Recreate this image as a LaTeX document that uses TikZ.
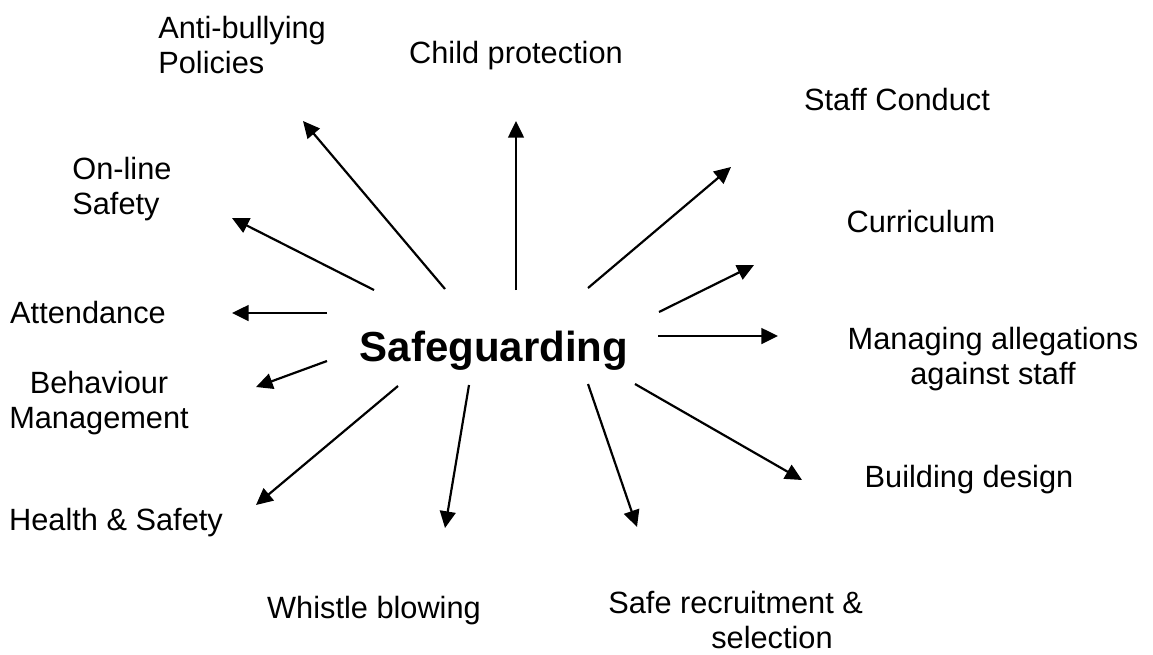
\documentclass[tikz,border=0pt]{standalone}
\usepackage{fontspec}
\setmainfont{Liberation Sans}
\usetikzlibrary{arrows.meta}
\tikzset{
  lbl/.style={inner sep=0pt, font=\fontsize{17.5}{19.5}\selectfont},
  spoke/.style={line width=1.25pt, -{Triangle[length=9.5pt,width=9pt]}}
}
\begin{document}
\begin{tikzpicture}[x=0.02cm,y=-0.02cm]
\useasboundingbox (0,0) rectangle (1153,654);
% centre word
\node[lbl, font=\bfseries\fontsize{23.9}{28}\selectfont, anchor=base] (safe) at (494,361) {Safeguarding};
% labels round it (multi-line ones sit on their last line)
\node[lbl, anchor=base west, align=left] (bully) at (158,73) {Anti-bullying\\Policies};
\node[lbl, anchor=base] (child) at (516,63) {Child protection};
\node[lbl, anchor=base] (staff) at (897,110) {Staff Conduct};
\node[lbl, anchor=base] (curric) at (921,232) {Curriculum};
\node[lbl, anchor=base west, align=left] (online) at (72,214) {On-line\\Safety};
\node[lbl, anchor=base] (attend) at (88,323) {Attendance};
\node[lbl, anchor=base, align=center] (behav) at (99,428) {Behaviour\\Management};
\node[lbl, anchor=base] (health) at (116,530) {Health \& Safety};
\node[lbl, anchor=base] (whistle) at (374,618) {Whistle blowing};
\node[lbl, anchor=base west, align=left] (recruit) at (608,648) {Safe recruitment \&\\\hspace*{3.35em}selection};
\node[lbl, anchor=base, align=center] (alleg) at (993,384) {Managing allegations\\against staff};
\node[lbl, anchor=base] (build) at (969,487) {Building design};
% spokes
\foreach \a/\b/\c/\d [count=\i] in {445/289/303/121, 516/290/516/121, 374/290/232/218,
  327/313/232/313, 327/361/256/387, 398/386/256/505, 469/385/445/528,
  588/384/637/527, 635/384/802/480, 658/336/778/336, 659/312/754/265, 588/288/731/167}{
  \coordinate (from\i) at (\a,\b);
  \coordinate (to\i) at (\c,\d);
  \draw[spoke] (from\i) -- (to\i);
}
\end{tikzpicture}
\end{document}
